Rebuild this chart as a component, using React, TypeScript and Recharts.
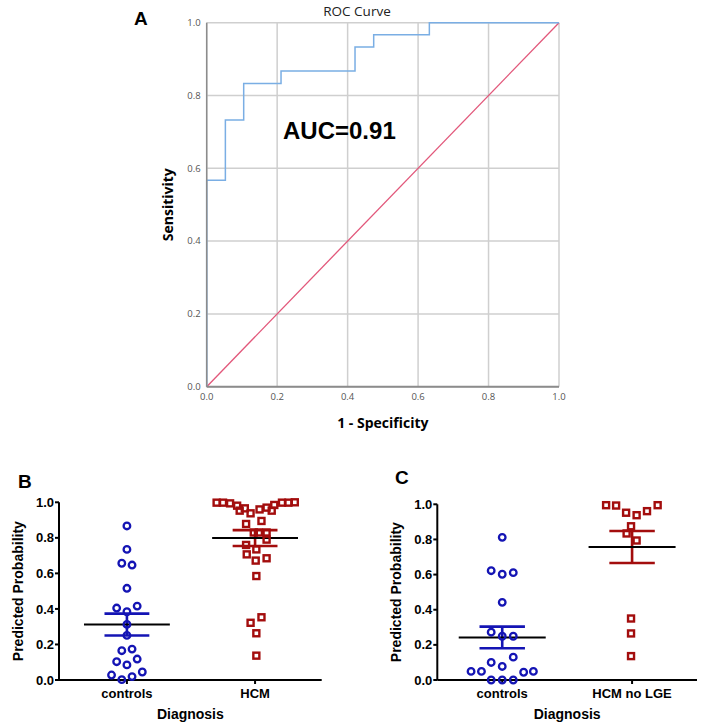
import {
  CartesianGrid,
  Label,
  Line,
  LineChart,
  ReferenceLine,
  Scatter,
  ScatterChart,
  XAxis,
  YAxis,
} from "recharts";

// panel A - ROC curve
const rocFpr = [0, 0, 0.053, 0.105, 0.211, 0.421, 0.474, 0.632, 1];
const rocTpr = [0, 0.567, 0.733, 0.833, 0.867, 0.933, 0.967, 1, 1];
const chanceX = [0, 1];
const chanceY = [0, 1];
const rocTicks = [0, 0.2, 0.4, 0.6, 0.8, 1];
const aucText = "AUC=0.91";

// panel B - controls vs HCM
const bCategories = ["controls", "HCM"];
const bControlsX = [1, 1, 0.96, 1.04, 1, 0.92, 1.08, 1, 1, 1, 0.96, 1.04, 0.92, 1, 1.08, 0.88, 0.96, 1.04, 1.12];
const bControlsY = [0.867, 0.735, 0.657, 0.647, 0.516, 0.405, 0.416, 0.384, 0.313, 0.251, 0.165, 0.174, 0.103, 0.085, 0.118, 0.028, 0.002, 0.019, 0.045];
const bHcmX = [
  1.7, 1.75, 1.805, 1.86, 1.88, 1.92, 1.965, 2.035, 2.09, 2.13, 2.15, 2.21, 2.26, 2.31,
  1.93, 2.05, 1.99, 2.03, 2.09, 2.09, 1.93, 2.01, 1.935, 2.09, 2.005, 2.01, 1.965, 2.05, 2.01, 2.01,
];
const bHcmY = [
  0.998, 0.998, 0.994, 0.981, 0.953, 0.966, 0.938, 0.96, 0.97, 0.953, 0.985, 0.998, 0.998, 1.0,
  0.878, 0.895, 0.83, 0.83, 0.83, 0.79, 0.76, 0.735, 0.707, 0.685, 0.672, 0.585, 0.322, 0.353, 0.263, 0.137,
];

// panel C - controls vs HCM without LGE
const cCategories = ["controls", "HCM no LGE"];
const cControlsX = [1, 0.915, 1, 1.085, 1, 0.915, 1, 1.085, 1.085, 0.915, 1, 0.76, 0.84, 1.165, 1.24, 0.915, 1, 1.085];
const cControlsY = [0.812, 0.622, 0.602, 0.611, 0.442, 0.272, 0.249, 0.249, 0.13, 0.1, 0.077, 0.049, 0.049, 0.044, 0.049, 0, 0, 0];
const cHcmX = [1.8, 1.877, 1.954, 2.035, 2.115, 2.197, 1.992, 1.958, 2.035, 1.992, 1.992, 1.992];
const cHcmY = [0.995, 0.993, 0.952, 0.938, 0.961, 0.995, 0.875, 0.834, 0.794, 0.35, 0.265, 0.136];

const probTicks = [0, 0.2, 0.4, 0.6, 0.8, 1];

const BLUE = "#1414b4";
const RED = "#a30d0d";
const ARIAL = "Liberation Sans, Arial, sans-serif";
const SPSS_FONT = "Open Sans, sans-serif";

const MEAN_HALF = 0.335;
const SEM_HALF = 0.175;

const toPoints = (xs: number[], ys: number[]) => xs.map((x, i) => ({ x, y: ys[i] }));

const meanSem = (ys: number[]) => {
  const n = ys.length;
  const mean = ys.reduce((a, b) => a + b, 0) / n;
  const sd = Math.sqrt(ys.reduce((a, b) => a + (b - mean) ** 2, 0) / (n - 1));
  return { mean, sem: sd / Math.sqrt(n) };
};

const circleShape = (color: string) => (p: any) => (
  <circle cx={p.cx} cy={p.cy} r={3.3} fill="none" stroke={color} strokeWidth={2.3} />
);

const squareShape = (color: string) => (p: any) => (
  <rect x={p.cx - 3} y={p.cy - 3} width={6} height={6} fill="none" stroke={color} strokeWidth={2.4} />
);

const yTitle = (text: string, dx: number, font: string, size: number) => (props: any) => {
  const vb = props.viewBox;
  const cx = vb.x + dx;
  const cy = vb.y + vb.height / 2;
  return (
    <text
      x={cx}
      y={cy}
      transform={`rotate(-90 ${cx} ${cy})`}
      textAnchor="middle"
      dominantBaseline="central"
      fontFamily={font}
      fontSize={size}
      fontWeight={700}
      fill="#000"
    >
      {text}
    </text>
  );
};

const xTitle = (text: string, dy: number, font: string, size: number) => (props: any) => {
  const vb = props.viewBox;
  return (
    <text
      x={vb.x + vb.width / 2}
      y={vb.y + dy}
      textAnchor="middle"
      fontFamily={font}
      fontSize={size}
      fontWeight={700}
      fill="#000"
    >
      {text}
    </text>
  );
};

const RocPanel = () => (
  <div style={{ position: "absolute", left: 130, top: 0 }}>
    <LineChart width={450} height={440} margin={{ top: 22.7, right: 21, bottom: 0, left: 0 }}>
      <CartesianGrid stroke="#cfcfcf" strokeWidth={1.5} />
      <XAxis
        type="number"
        dataKey="x"
        domain={[0, 1]}
        ticks={rocTicks}
        tickFormatter={(v: number) => v.toFixed(1)}
        height={53.3}
        tickSize={0}
        tickMargin={7}
        axisLine={{ stroke: "#8c8c8c", strokeWidth: 2 }}
        tick={{ fill: "#555", fontSize: 9.5, fontFamily: SPSS_FONT }}
      >
        <Label content={xTitle("1 - Specificity", 41, SPSS_FONT, 14)} />
      </XAxis>
      <YAxis
        type="number"
        dataKey="y"
        domain={[0, 1]}
        ticks={rocTicks}
        tickFormatter={(v: number) => v.toFixed(1)}
        width={76.7}
        tickSize={0}
        tickMargin={6}
        axisLine={{ stroke: "#8c8c8c", strokeWidth: 1.5 }}
        tick={{ fill: "#555", fontSize: 9.5, fontFamily: SPSS_FONT }}
      >
        <Label content={yTitle("Sensitivity", 38, SPSS_FONT, 14)} />
      </YAxis>
      <Line
        data={toPoints(chanceX, chanceY)}
        dataKey="y"
        type="linear"
        stroke="#e2577a"
        strokeWidth={1.3}
        dot={false}
        activeDot={false}
        isAnimationActive={false}
      />
      <Line
        data={toPoints(rocFpr, rocTpr)}
        dataKey="y"
        type="stepAfter"
        stroke="#7aaee4"
        strokeWidth={1.5}
        dot={false}
        activeDot={false}
        isAnimationActive={false}
      />
    </LineChart>
  </div>
);

type Group = { xs: number[]; ys: number[]; pos: number; color: string; marker: "circle" | "square" };

const DotPlot = ({
  left,
  top,
  width,
  domain,
  marginTop,
  marginRight,
  yWidth,
  categories,
  groups,
}: {
  left: number;
  top: number;
  width: number;
  domain: [number, number];
  marginTop: number;
  marginRight: number;
  yWidth: number;
  categories: string[];
  groups: Group[];
}) => (
  <div style={{ position: "absolute", left, top }}>
    <ScatterChart width={width} height={245} margin={{ top: marginTop, right: marginRight, bottom: 0, left: 0 }}>
      <XAxis
        type="number"
        dataKey="x"
        domain={domain}
        ticks={[1, 2]}
        tickFormatter={(v: number) => categories[v - 1]}
        height={45}
        tickSize={4}
        tickMargin={5}
        axisLine={{ stroke: "#000", strokeWidth: 2 }}
        tickLine={{ stroke: "#000", strokeWidth: 2 }}
        tick={{ fill: "#000", fontSize: 13, fontWeight: 700, fontFamily: ARIAL }}
      >
        <Label content={xTitle("Diagnosis", 39, ARIAL, 14)} />
      </XAxis>
      <YAxis
        type="number"
        dataKey="y"
        domain={[0, 1]}
        ticks={probTicks}
        tickFormatter={(v: number) => v.toFixed(1)}
        width={yWidth}
        tickSize={4}
        tickMargin={1}
        axisLine={{ stroke: "#000", strokeWidth: 2 }}
        tickLine={{ stroke: "#000", strokeWidth: 2 }}
        tick={{ fill: "#000", fontSize: 13, fontWeight: 700, fontFamily: ARIAL }}
      >
        <Label content={yTitle("Predicted Probability", 18.5, ARIAL, 14)} />
      </YAxis>
      {groups.map((g, i) => (
        <Scatter
          key={`s${i}`}
          data={toPoints(g.xs, g.ys)}
          shape={g.marker === "circle" ? circleShape(g.color) : squareShape(g.color)}
          isAnimationActive={false}
        />
      ))}
      {groups.map((g, i) => {
        const { mean, sem } = meanSem(g.ys);
        return [
          <ReferenceLine
            key={`v${i}`}
            segment={[{ x: g.pos, y: mean - sem }, { x: g.pos, y: mean + sem }]}
            stroke={g.color}
            strokeWidth={2.6}
          />,
          <ReferenceLine
            key={`t${i}`}
            segment={[{ x: g.pos - SEM_HALF, y: mean + sem }, { x: g.pos + SEM_HALF, y: mean + sem }]}
            stroke={g.color}
            strokeWidth={2.6}
          />,
          <ReferenceLine
            key={`b${i}`}
            segment={[{ x: g.pos - SEM_HALF, y: mean - sem }, { x: g.pos + SEM_HALF, y: mean - sem }]}
            stroke={g.color}
            strokeWidth={2.6}
          />,
          <ReferenceLine
            key={`m${i}`}
            segment={[{ x: g.pos - MEAN_HALF, y: mean }, { x: g.pos + MEAN_HALF, y: mean }]}
            stroke="#000"
            strokeWidth={2}
          />,
        ];
      })}
    </ScatterChart>
  </div>
);

const letterStyle = (left: number, top: number) => ({
  position: "absolute" as const,
  left,
  top,
  fontFamily: ARIAL,
  fontWeight: 700,
  fontSize: 19,
  lineHeight: 1,
  color: "#000",
});

export default function App() {
  return (
    <div style={{ position: "absolute", left: 0, top: 0, width: 703, height: 725, background: "#fff", overflow: "hidden" }}>
      <RocPanel />
      <div
        style={{
          position: "absolute",
          left: 357,
          top: 2.5,
          transform: "translateX(-50%)",
          fontFamily: SPSS_FONT,
          fontSize: 13.5,
          lineHeight: "16px",
          color: "#222",
          whiteSpace: "nowrap",
        }}
      >
        ROC Curve
      </div>
      <div
        style={{
          position: "absolute",
          left: 283,
          top: 119,
          fontFamily: ARIAL,
          fontWeight: 700,
          fontSize: 24,
          lineHeight: 1,
          color: "#000",
        }}
      >
        {aucText}
      </div>
      <div style={letterStyle(134, 9)}>A</div>

      <DotPlot
        left={0}
        top={480}
        width={330}
        domain={[0.47, 2.52]}
        marginTop={22.3}
        marginRight={8.3}
        yWidth={59}
        categories={bCategories}
        groups={[
          { xs: bControlsX, ys: bControlsY, pos: 1, color: BLUE, marker: "circle" },
          { xs: bHcmX, ys: bHcmY, pos: 2, color: RED, marker: "square" },
        ]}
      />
      <div style={letterStyle(18, 472)}>B</div>

      <DotPlot
        left={378}
        top={480}
        width={325}
        domain={[0.5, 2.5]}
        marginTop={24.3}
        marginRight={6}
        yWidth={59.3}
        categories={cCategories}
        groups={[
          { xs: cControlsX, ys: cControlsY, pos: 1, color: BLUE, marker: "circle" },
          { xs: cHcmX, ys: cHcmY, pos: 2, color: RED, marker: "square" },
        ]}
      />
      <div style={letterStyle(395, 468)}>C</div>
    </div>
  );
}
